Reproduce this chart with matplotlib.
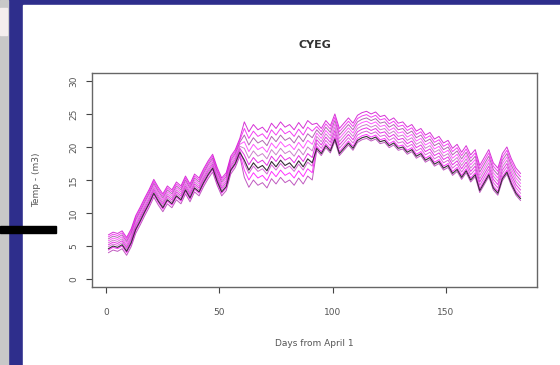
import matplotlib.pyplot as plt
from matplotlib.patches import Rectangle

# observed series (black line), every second day from April 1
days = list(range(1, 184, 2))
obs = [4.6, 5.0, 4.8, 5.2, 4.2, 5.5, 7.5, 8.8, 10.2, 11.5,
       13.0, 11.8, 10.8, 12.0, 11.4, 12.6, 12.0, 13.5, 12.3, 13.8,
       13.2, 14.6, 15.8, 16.8, 14.8, 13.2, 14.0, 16.5, 17.5, 19.2,
       18.0, 16.5, 17.6, 16.8, 17.2, 16.4, 17.8, 17.0, 18.0, 17.2,
       17.6, 16.8, 17.9, 17.0, 18.2, 17.6, 19.8, 19.0, 20.2, 19.4,
       21.2, 19.0, 19.8, 20.6, 19.8, 21.0, 21.4, 21.6, 21.2, 21.5,
       20.8, 21.0, 20.2, 20.6, 19.8, 20.0, 19.2, 19.6, 18.6, 19.0,
       18.0, 18.4, 17.4, 17.8, 16.8, 17.2, 16.0, 16.6, 15.4, 16.4,
       15.0, 15.8, 13.4, 14.6, 15.8, 13.8, 13.0, 15.2, 16.2, 14.4,
       13.0, 12.2]

# ensemble member offsets from the observed line, per period
offset_early = [-0.6, -0.2, 0.3, 0.6, 0.9, 1.2, 1.5, 1.8, 2.1]   # days 1-59
offset_mid = [-2.6, -1.5, -0.5, 0.8, 1.8, 2.8, 3.8, 4.8, 5.8]    # days 61-91
offset_late = [-0.3, 0.3, 0.8, 1.3, 1.8, 2.3, 2.8, 3.3, 3.8]     # days 93-183
member_colors = ['#b030b0', '#ff00ff', '#d040d0', '#e000e0', '#c060c0',
                 '#ff30ff', '#a040a0', '#f010f0', '#cc00cc']

xticks = [0, 50, 100, 150]
yticks = [0, 5, 10, 15, 20, 25, 30]

blue = '#2e2e8c'
fig = plt.figure(figsize=(5.6, 3.65), dpi=100)
fig.patch.set_facecolor(blue)

# slide background pieces
fig.patches.append(Rectangle((0, 0), 8 / 560, 1, transform=fig.transFigure,
                             color='#c8c8c8', zorder=-2))
fig.patches.append(Rectangle((0, 1 - 35 / 365), 7 / 560, 27 / 365,
                             transform=fig.transFigure, color='#f4eeee', zorder=-2))
fig.patches.append(Rectangle((23 / 560, 0), 537 / 560, 360 / 365,
                             transform=fig.transFigure, color='white', zorder=-2))
fig.patches.append(Rectangle((0, 1 - 233 / 365), 56 / 560, 7 / 365,
                             transform=fig.transFigure, color='black', zorder=5))

ax = fig.add_axes([92 / 560, 1 - 287 / 365, 445 / 560, 214 / 365])
ax.set_zorder(2)

for k in range(len(offset_early)):
    vals = []
    for d, v in zip(days, obs):
        if d < 60:
            vals.append(v + offset_early[k])
        elif d < 92:
            vals.append(v + offset_mid[k])
        else:
            vals.append(v + offset_late[k])
    ax.plot(days, vals, color=member_colors[k], lw=0.7, alpha=0.8)

ax.plot(days, obs, color='#3a2a3a', lw=0.8)

ax.set_xlim(-6.3, 190.3)
ax.set_ylim(-1.2, 31.2)
ax.set_xticks(xticks)
ax.set_yticks(yticks)
ax.set_yticklabels([str(t) for t in yticks], rotation=90, va='center')
ax.tick_params(labelsize=6.5, length=4, color='#444444', labelcolor='#555555')
ax.tick_params(axis='x', pad=11)
ax.tick_params(axis='y', pad=6)
for s in ax.spines.values():
    s.set_color('#666666')
    s.set_linewidth(1.0)

ax.set_title('CYEG', fontsize=8, fontweight='bold', color='#333333', pad=18)
ax.set_xlabel('Days from April 1', fontsize=6.5, color='#555555', labelpad=16)
ax.set_ylabel('Temp - (m3)', fontsize=6.5, color='#555555', labelpad=20)

fig.savefig('out.png', dpi=100, facecolor=fig.get_facecolor())
